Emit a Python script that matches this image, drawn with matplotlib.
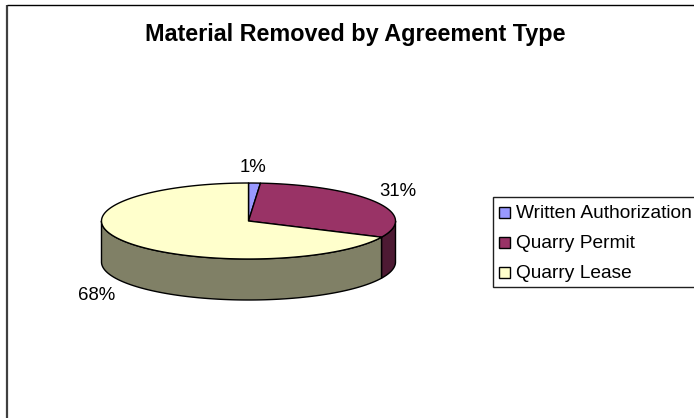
import numpy as np
import matplotlib
matplotlib.use("Agg")
import matplotlib.pyplot as plt
from matplotlib.patches import Rectangle

plt.rcParams['font.family'] = ['Liberation Sans', 'DejaVu Sans']

title = "Material Removed by Agreement Type"
categories = ["Written Authorization", "Quarry Permit", "Quarry Lease"]
values = [1.3, 30.7, 68.0]
value_labels = ["1%", "31%", "68%"]
top_colors = ["#9999FF", "#993366", "#FFFFCC"]
side_colors = ["#4D4D80", "#4D1A33", "#808066"]
label_positions = [(253.5, 172.5), (398, 196.5), (97, 299.5)]

W, H = 694, 418
cx, cy, rx, ry, depth = 248.5, 221.0, 147.0, 38.0, 41.0

fig = plt.figure(figsize=(W / 100, H / 100), dpi=100)
ax = fig.add_axes([0, 0, 1, 1])
ax.set_xlim(0, W)
ax.set_ylim(H, 0)
ax.axis("off")


def rim(a, b, dy=0.0):
    t = np.radians(np.linspace(a, b, 200))
    return cx + rx * np.sin(t), cy - ry * np.cos(t) + dy


edges = np.concatenate([[0], np.cumsum(values)]) / sum(values) * 360

# chart frame: only the top and left edges fall inside the picture
ax.plot([7.5, 7.5], [4.5, H], color="#404040", lw=1.6, solid_capstyle="butt")
ax.plot([7, W], [4.5, 4.5], color="black", lw=1.0, solid_capstyle="butt")

# sides (front half of the cylinder only)
for a, b, c in zip(edges[:-1], edges[1:], side_colors):
    lo, hi = max(a, 90), min(b, 270)
    if lo < hi:
        x, y = rim(lo, hi)
        xb, yb = rim(hi, lo, depth)
        ax.fill(np.r_[x, xb], np.r_[y, yb], facecolor=c, edgecolor="black",
                lw=1.0, joinstyle="round", zorder=2)

# top faces
for a, b, c in zip(edges[:-1], edges[1:], top_colors):
    x, y = rim(a, b)
    ax.fill(np.r_[cx, x], np.r_[cy, y], facecolor=c, edgecolor="black",
            lw=1.0, joinstyle="round", zorder=3)

for (x, y), s in zip(label_positions, value_labels):
    ax.text(x, y, s, ha="center", va="baseline",
            fontsize=13.4, color="black", zorder=5)

ax.text(355.5, 41.5, title, ha="center", va="baseline", fontsize=16.8,
        fontweight="bold", color="black")

# legend
ax.add_patch(Rectangle((493, 197), 260, 90, facecolor="white",
                       edgecolor="#202020", lw=1.0, zorder=4))
for i, (name, c) in enumerate(zip(categories, top_colors)):
    base = 218 + i * 30
    ax.add_patch(Rectangle((499.5, base - 11), 10.5, 10.5, facecolor=c,
                           edgecolor="black", lw=1.0, zorder=5))
    ax.text(516, base, name, ha="left", va="baseline", fontsize=13.8,
            color="black", zorder=5)

fig.savefig("out.png", dpi=100, facecolor="white")
